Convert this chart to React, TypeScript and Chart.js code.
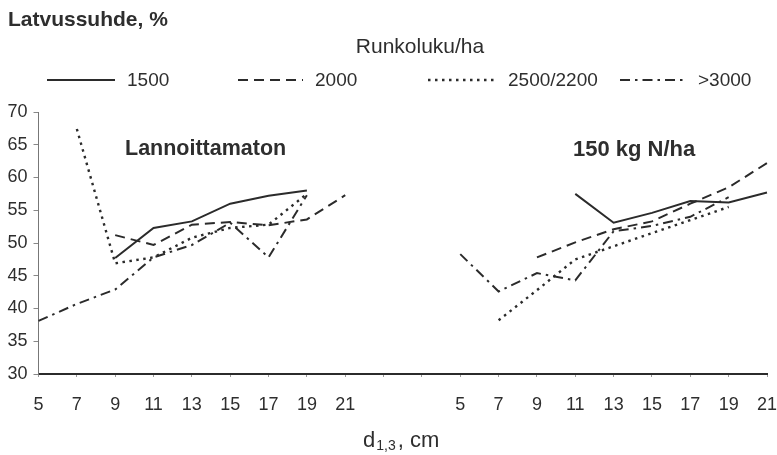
import React, { useEffect, useRef } from "react";
import { Chart, registerables } from "chart.js";

Chart.register(...registerables);

// ---- data ----
const diameters = ["5", "7", "9", "11", "13", "15", "17", "19", "21"];
const gapLabels = ["", ""];
const seriesNames = ["1500", "2000", "2500/2200", ">3000"];
const panelNames = ["Lannoittamaton", "150 kg N/ha"];
const legendTitle = "Runkoluku/ha";
const yTitle = "Latvussuhde, %";

// Unfertilized (Lannoittamaton), values at d = 5..21
const unfert1500 = [null, null, 47.7, 52.3, 53.3, 56.0, 57.2, 58.0, null];
const unfert2000 = [null, null, 51.2, 49.7, 52.8, 53.2, 52.7, 53.6, 57.3];
const unfert2500 = [null, 67.4, 46.9, 47.8, 50.8, 52.3, 52.8, 57.5, null];
const unfert3000 = [38.1, 40.7, 42.9, 47.8, 49.7, 53.1, 47.8, 57.3, null];

// 150 kg N/ha, values at d = 5..21
const fert1500 = [null, null, null, 57.5, 53.1, 54.6, 56.4, 56.2, 57.7];
const fert2000 = [null, null, 47.8, 50.1, 52.1, 53.3, 56.0, 58.5, 62.2];
const fert2500 = [null, 38.2, 42.8, 47.5, 49.5, 51.5, 53.5, 55.5, null];
const fert3000 = [48.3, 42.6, 45.4, 44.3, 51.8, 52.6, 54.0, 57.0, null];

const yMin = 30;
const yMax = 70;
const yStep = 5;

// ---- styles ----
const LINE_COLOR = "#2b2b2b";
const TEXT_COLOR = "#2e2e2e";
const FONT = "'Liberation Sans', Arial, sans-serif";
const dashPatterns: number[][] = [[], [10, 6], [2.5, 4.5], [10, 5, 2.5, 5]];
const lineWidths = [2, 2, 2.4, 2];

const labels = [...diameters, ...gapLabels, ...diameters];
const gapNulls = gapLabels.map(() => null);
const joined = [
  [...unfert1500, ...gapNulls, ...fert1500],
  [...unfert2000, ...gapNulls, ...fert2000],
  [...unfert2500, ...gapNulls, ...fert2500],
  [...unfert3000, ...gapNulls, ...fert3000],
];

const textPlugin = {
  id: "texts",
  afterDraw(chart: any) {
    const ctx = chart.ctx as CanvasRenderingContext2D;
    const area = chart.chartArea;
    ctx.save();
    ctx.fillStyle = TEXT_COLOR;
    ctx.textBaseline = "middle";

    // y title
    ctx.font = `bold 21px ${FONT}`;
    ctx.textAlign = "left";
    ctx.fillText(yTitle, 8, 20);

    // legend title
    ctx.font = `21px ${FONT}`;
    ctx.textAlign = "center";
    ctx.fillText(legendTitle, 420, 47);

    // legend items
    const items = [
      { x1: 47, x2: 115, tx: 127 },
      { x1: 238, x2: 303, tx: 315 },
      { x1: 428, x2: 497, tx: 508 },
      { x1: 620, x2: 686, tx: 698 },
    ];
    ctx.textAlign = "left";
    ctx.font = `19px ${FONT}`;
    items.forEach((it, i) => {
      ctx.save();
      ctx.strokeStyle = LINE_COLOR;
      ctx.lineWidth = lineWidths[i];
      ctx.setLineDash(dashPatterns[i]);
      ctx.beginPath();
      ctx.moveTo(it.x1, 80);
      ctx.lineTo(it.x2, 80);
      ctx.stroke();
      ctx.restore();
      ctx.fillText(seriesNames[i], it.tx, 81);
    });

    // panel labels
    ctx.font = `bold 21.5px ${FONT}`;
    ctx.textAlign = "left";
    ctx.fillText(panelNames[0], 125, 149);
    ctx.font = `bold 22px ${FONT}`;
    ctx.fillText(panelNames[1], 573, 150);

    // x axis title d_{1,3}, cm
    const baseY = area.bottom + 67;
    let x = 363;
    ctx.font = `22px ${FONT}`;
    ctx.fillText("d", x, baseY);
    x += ctx.measureText("d").width + 1;
    ctx.font = `14px ${FONT}`;
    ctx.fillText("1,3", x, baseY + 5);
    x += ctx.measureText("1,3").width + 2;
    ctx.font = `22px ${FONT}`;
    ctx.fillText(", cm", x, baseY);
    ctx.restore();
  },
};

export default function App() {
  const ref = useRef<HTMLCanvasElement | null>(null);
  useEffect(() => {
    document.body.style.margin = "0";
    const canvas = ref.current;
    if (!canvas) return;
    const chart = new Chart(canvas, {
      type: "line",
      data: {
        labels,
        datasets: joined.map((d, i) => ({
          label: seriesNames[i],
          data: d,
          borderColor: LINE_COLOR,
          backgroundColor: LINE_COLOR,
          borderWidth: lineWidths[i],
          borderDash: dashPatterns[i],
          pointRadius: 0,
          tension: 0,
          spanGaps: false,
          fill: false,
        })),
      },
      options: {
        animation: false,
        responsive: false,
        maintainAspectRatio: false,
        layout: { padding: { top: 112, right: 10, left: 0, bottom: 0 } },
        plugins: {
          legend: { display: false },
          title: { display: false },
          tooltip: { enabled: false },
        },
        scales: {
          x: {
            type: "category",
            offset: false,
            grid: {
              display: true,
              drawOnChartArea: false,
              drawTicks: true,
              tickLength: 3,
              color: "#999",
            },
            border: { display: true, color: "#2b2b2b", width: 2 },
            ticks: {
              autoSkip: false,
              maxRotation: 0,
              padding: 17,
              color: TEXT_COLOR,
              font: { family: FONT, size: 18 },
            },
            afterFit: (s: any) => {
              s.height = 81;
              s.paddingLeft = 0;
              s.paddingRight = 0;
            },
          },
          y: {
            min: yMin,
            max: yMax,
            grid: {
              display: true,
              drawOnChartArea: false,
              drawTicks: true,
              tickLength: 5,
              color: "#888",
            },
            border: { display: true, color: "#777", width: 1 },
            ticks: {
              stepSize: yStep,
              padding: 6,
              color: TEXT_COLOR,
              font: { family: FONT, size: 18 },
            },
            afterFit: (s: any) => {
              s.width = 38.5;
              s.paddingTop = 0;
              s.paddingBottom = 0;
            },
          },
        },
      },
      plugins: [textPlugin],
    });
    return () => chart.destroy();
  }, []);
  return (
    <div style={{ width: 777, height: 455, position: "relative", background: "#fff" }}>
      <canvas ref={ref} width={777} height={455} />
    </div>
  );
}
